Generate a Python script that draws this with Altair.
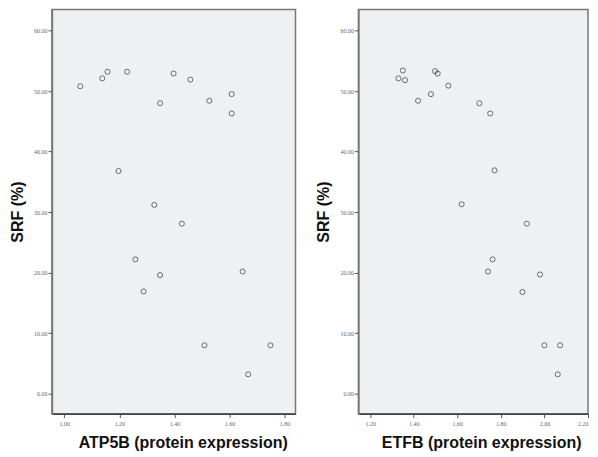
import altair as alt
import pandas as pd

# Left panel: ATP5B vs SRF
atp5b = [1.058, 1.138, 1.157, 1.228, 1.348, 1.397, 1.458, 1.527, 1.608, 1.608,
         1.197, 1.327, 1.427, 1.258, 1.348, 1.288, 1.648, 1.509, 1.749, 1.668]
srf_a = [50.8, 52.1, 53.2, 53.2, 48.0, 52.9, 51.9, 48.4, 49.5, 46.3,
         36.8, 31.2, 28.1, 22.2, 19.6, 16.9, 20.2, 8.0, 8.0, 3.2]

# Right panel: ETFB vs SRF
etfb = [1.330, 1.350, 1.360, 1.420, 1.479, 1.498, 1.510, 1.559, 1.701, 1.751,
        1.771, 1.620, 1.919, 1.762, 1.741, 1.980, 1.899, 2.000, 2.072, 2.061]
srf_e = [52.1, 53.4, 51.8, 48.4, 49.5, 53.3, 52.9, 50.9, 48.0, 46.3,
         36.9, 31.3, 28.1, 22.2, 20.2, 19.7, 16.8, 8.0, 8.0, 3.2]

y_ticks = [0, 10, 20, 30, 40, 50, 60]
x_ticks_left = [1.0, 1.2, 1.4, 1.6, 1.8]
x_ticks_right = [1.2, 1.4, 1.6, 1.8, 2.0, 2.2]

df_a = pd.DataFrame({"x": atp5b, "y": srf_a})
df_e = pd.DataFrame({"x": etfb, "y": srf_e})

lab_font = "Liberation Sans Narrow"
ttl_font = "Liberation Sans"


def y_axis():
    return alt.Y(
        "y:Q",
        scale=alt.Scale(domain=[-3.3, 63.5], nice=False, zero=False),
        axis=alt.Axis(
            values=y_ticks, format=".2f", title="SRF (%)", grid=False,
            labelFont=lab_font, labelFontSize=6, labelColor="#666",
            labelPadding=1, tickSize=4, tickColor="#555",
            domainColor="#777", domainWidth=1.5,
            titleFont=ttl_font, titleFontSize=16, titleFontWeight="bold",
            titleColor="#111", titlePadding=8,
        ),
    )


def x_axis(title, domain, ticks, tx):
    return alt.X(
        "x:Q",
        scale=alt.Scale(domain=domain, nice=False, zero=False),
        axis=alt.Axis(
            values=ticks, format=".2f", title=title, grid=False,
            labelFont=lab_font, labelFontSize=6, labelColor="#666",
            labelPadding=3, tickSize=4, tickColor="#555",
            domainColor="#444", domainWidth=1.5,
            titleFont=ttl_font, titleFontSize=16, titleFontWeight="bold",
            titleColor="#111", titlePadding=8, titleX=tx,
        ),
    )


left = alt.Chart(df_a).mark_point(
    shape="circle", filled=False, size=26, color="#333", strokeWidth=1
).encode(
    x=x_axis("ATP5B (protein expression)", [0.955, 1.84], x_ticks_left, 131),
    y=y_axis(),
).properties(width=244, height=405)

right = alt.Chart(df_e).mark_point(
    shape="circle", filled=False, size=26, color="#333", strokeWidth=1
).encode(
    x=x_axis("ETFB (protein expression)", [1.146, 2.20], x_ticks_right, 123),
    y=y_axis(),
).properties(width=230, height=405)

chart = alt.hconcat(left, right, spacing=63, bounds="flush").properties(
    padding=0, background="white"
).configure_view(
    fill="#eff0f2", stroke="#777", strokeWidth=1.5
)

chart.save("out.html", embed_options={"renderer": "svg", "actions": False})
